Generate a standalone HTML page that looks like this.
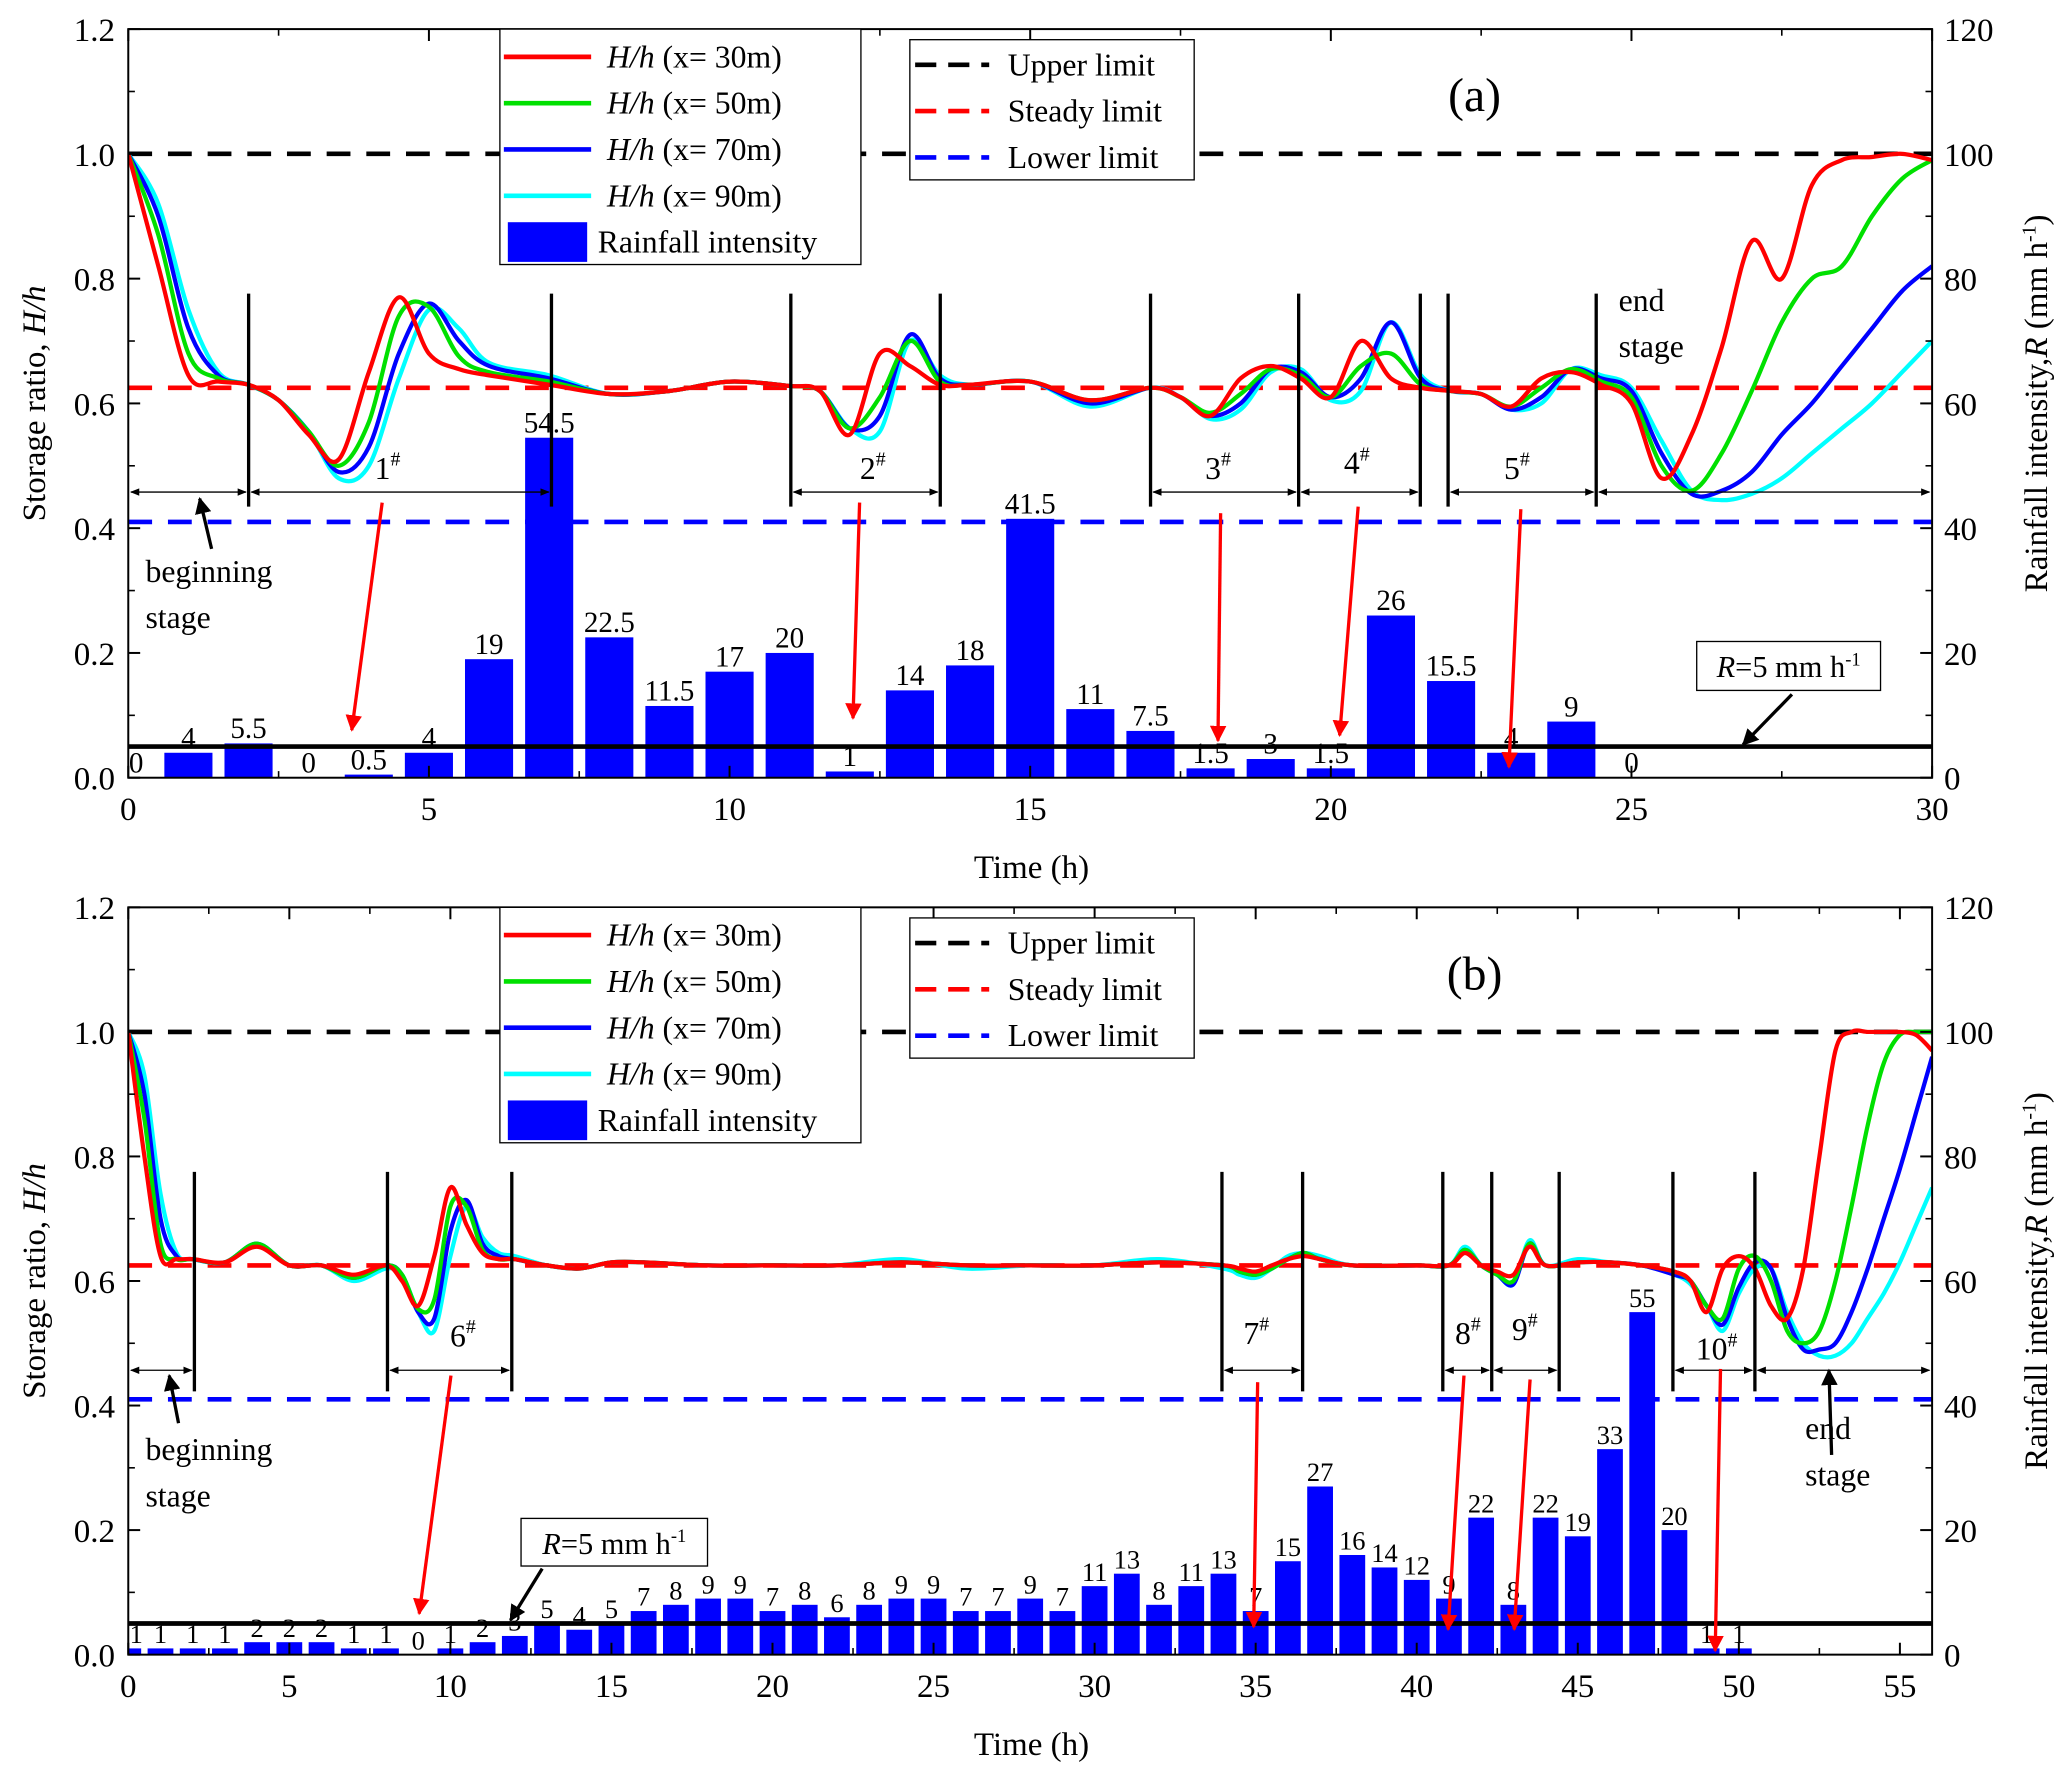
<!DOCTYPE html>
<html><head><meta charset="utf-8"><style>
html,body{margin:0;padding:0;background:#fff}
svg{display:block}
text{font-family:"Liberation Serif",serif;fill:#000}
</style></head><body>
<svg id="chart" width="2067" height="1775" viewBox="0 0 1563 1342" preserveAspectRatio="none" xmlns="http://www.w3.org/2000/svg">
<defs>
<marker id="ah" viewBox="0 0 10 10" refX="9" refY="5" markerWidth="7" markerHeight="7" orient="auto-start-reverse"><path d="M0,1 L10,5 L0,9 z" fill="#000"/></marker>
<marker id="rh" viewBox="0 0 10 10" refX="9" refY="5" markerWidth="5" markerHeight="5" orient="auto"><path d="M0,0 L10,5 L0,10 z" fill="#f00"/></marker>
<marker id="bh" viewBox="0 0 10 10" refX="9" refY="5" markerWidth="5" markerHeight="5" orient="auto"><path d="M0,0 L10,5 L0,10 z" fill="#000"/></marker>
<clipPath id="clipa"><rect x="97" y="22" width="1364" height="566"/></clipPath>
<clipPath id="clipb"><rect x="97" y="686" width="1364" height="565"/></clipPath>
</defs>
</svg>
<script>
// ---------- Panel (a) data ----------
const rainA = [0,4,5.5,0,0.5,4,19,54.5,22.5,11.5,17,20,1,14,18,41.5,11,7.5,1.5,3,1.5,26,15.5,4,9,0];
const tA = [0,0.5,1,1.5,2,2.5,3,3.5,4,4.5,5,5.5,6,7,8,9,10,11,11.5,12,12.5,13,13.5,14,15,16,17,17.5,18,18.5,19,19.5,20,20.5,21,21.5,22,22.5,23,23.5,24,24.5,25,25.5,26,26.5,27,27.5,28,28.5,29,29.5,30];
const redA = [1.0,0.82,0.645,0.635,0.63,0.605,0.55,0.51,0.65,0.77,0.68,0.655,0.645,0.63,0.615,0.62,0.635,0.628,0.62,0.55,0.68,0.66,0.63,0.63,0.635,0.605,0.625,0.61,0.58,0.64,0.66,0.64,0.61,0.70,0.64,0.625,0.62,0.615,0.595,0.64,0.65,0.63,0.60,0.48,0.55,0.69,0.86,0.80,0.95,0.99,0.995,1.0,0.99];
const greenA = [1.0,0.87,0.68,0.64,0.63,0.605,0.555,0.50,0.57,0.74,0.755,0.675,0.65,0.635,0.615,0.62,0.635,0.628,0.62,0.56,0.61,0.70,0.635,0.63,0.635,0.605,0.625,0.61,0.585,0.615,0.655,0.645,0.61,0.66,0.68,0.63,0.62,0.615,0.595,0.625,0.655,0.635,0.61,0.50,0.46,0.52,0.62,0.73,0.80,0.82,0.9,0.96,0.99];
const blueA = [1.0,0.9,0.72,0.645,0.63,0.605,0.555,0.49,0.53,0.68,0.76,0.70,0.66,0.64,0.615,0.62,0.635,0.628,0.62,0.56,0.58,0.71,0.64,0.63,0.635,0.60,0.625,0.61,0.58,0.60,0.655,0.65,0.61,0.64,0.73,0.64,0.62,0.615,0.59,0.61,0.655,0.64,0.62,0.52,0.455,0.46,0.49,0.55,0.60,0.66,0.72,0.78,0.82];
const cyanA = [1.0,0.92,0.75,0.65,0.63,0.605,0.555,0.48,0.50,0.64,0.75,0.72,0.665,0.645,0.615,0.62,0.635,0.628,0.62,0.56,0.555,0.70,0.645,0.63,0.635,0.595,0.625,0.61,0.575,0.59,0.65,0.655,0.605,0.62,0.73,0.645,0.62,0.615,0.59,0.60,0.655,0.645,0.625,0.54,0.46,0.445,0.455,0.48,0.52,0.56,0.60,0.65,0.70];
const xTicksA = [0,5,10,15,20,25,30];
// ---------- Panel (b) data ----------
const rainB = [1,1,1,1,2,2,2,1,1,0,1,2,3,5,4,5,7,8,9,9,7,8,6,8,9,9,7,7,9,7,11,13,8,11,13,7,15,27,16,14,12,9,22,8,22,19,33,55,20,1,1];
const tB = [0,0.5,1,1.5,2,3,4,5,6,7,8,8.5,9,9.5,10,10.5,11,11.5,12,13,14,15,16,18,20,22,24,26,28,30,32,34,34.5,35,35.5,36,36.5,37,38,40,41,41.5,42,42.5,43,43.5,44,45,46,47,48,48.5,49,49.5,50,50.5,51,51.5,52,52.5,53,53.5,54,54.5,55,55.5,56];
const redB = [1.0,0.8,0.64,0.635,0.635,0.63,0.655,0.625,0.625,0.61,0.625,0.60,0.56,0.64,0.75,0.69,0.645,0.635,0.635,0.625,0.62,0.63,0.63,0.625,0.625,0.625,0.63,0.625,0.625,0.625,0.63,0.625,0.62,0.615,0.625,0.635,0.64,0.635,0.625,0.625,0.625,0.645,0.625,0.615,0.61,0.655,0.625,0.63,0.63,0.625,0.615,0.60,0.55,0.62,0.64,0.62,0.56,0.54,0.62,0.80,0.97,1.0,1.0,1.0,1.0,0.995,0.97];
const greenB = [1.0,0.86,0.66,0.635,0.635,0.63,0.66,0.625,0.625,0.605,0.625,0.61,0.555,0.57,0.72,0.72,0.65,0.635,0.635,0.625,0.62,0.63,0.63,0.625,0.625,0.625,0.63,0.625,0.625,0.625,0.63,0.625,0.615,0.61,0.62,0.635,0.645,0.635,0.625,0.625,0.625,0.65,0.625,0.61,0.60,0.66,0.625,0.63,0.63,0.625,0.615,0.60,0.56,0.54,0.62,0.64,0.60,0.52,0.50,0.52,0.60,0.72,0.85,0.95,0.995,1.0,1.0];
const blueB = [1.0,0.9,0.7,0.64,0.635,0.63,0.66,0.625,0.625,0.605,0.625,0.61,0.55,0.54,0.68,0.73,0.66,0.64,0.635,0.625,0.62,0.63,0.63,0.625,0.625,0.625,0.63,0.625,0.625,0.625,0.63,0.625,0.615,0.61,0.62,0.635,0.645,0.635,0.625,0.625,0.625,0.65,0.625,0.61,0.595,0.66,0.625,0.63,0.63,0.625,0.61,0.60,0.56,0.53,0.59,0.63,0.62,0.54,0.49,0.49,0.50,0.55,0.62,0.70,0.78,0.87,0.96];
const cyanB = [1.0,0.93,0.74,0.645,0.635,0.63,0.66,0.625,0.625,0.60,0.62,0.61,0.55,0.52,0.64,0.72,0.67,0.645,0.64,0.625,0.62,0.63,0.63,0.625,0.625,0.625,0.635,0.62,0.625,0.625,0.635,0.62,0.61,0.605,0.62,0.64,0.645,0.64,0.625,0.625,0.625,0.655,0.625,0.61,0.595,0.665,0.625,0.635,0.63,0.625,0.61,0.595,0.56,0.52,0.58,0.62,0.62,0.55,0.50,0.48,0.48,0.50,0.54,0.58,0.63,0.69,0.75];
const xTicksB = [0,5,10,15,20,25,30,35,40,45,50,55];
const yTicks = [0,0.2,0.4,0.6,0.8,1.0,1.2];
const rTicks = [0,20,40,60,80,100,120];
const limits = [1.0,0.625,0.41];
const rThreshold = 5;

const NS="http://www.w3.org/2000/svg";
const svg=document.getElementById('chart');
function el(tag,attrs,parent){const e=document.createElementNS(NS,tag);for(const k in attrs)e.setAttribute(k,attrs[k]);(parent||svg).appendChild(e);return e;}
function txt(s,x,y,size,anchor,parent){const t=el('text',{x:x,y:y,'font-size':size,'text-anchor':anchor||'start'},parent);t.textContent=s;return t;}
function smooth(pts){
  let d='M'+pts[0][0].toFixed(1)+','+pts[0][1].toFixed(1);
  for(let i=0;i<pts.length-1;i++){
    const p0=pts[Math.max(0,i-1)],p1=pts[i],p2=pts[i+1],p3=pts[Math.min(pts.length-1,i+2)];
    const c1=[p1[0]+(p2[0]-p0[0])/6,p1[1]+(p2[1]-p0[1])/6],c2=[p2[0]-(p3[0]-p1[0])/6,p2[1]-(p3[1]-p1[1])/6];
    d+=' C'+c1[0].toFixed(1)+','+c1[1].toFixed(1)+' '+c2[0].toFixed(1)+','+c2[1].toFixed(1)+' '+p2[0].toFixed(1)+','+p2[1].toFixed(1);
  }
  return d;
}

function panel(cfg){
  const g=el('g',{});
  
  
  const L=97,R=1461,T=cfg.top,B=cfg.bottom;
  const xs=t=>L+t*(R-L)/cfg.xmax;
  const ys=v=>B-v*(B-T)/1.2;
  const yr=r=>B-r*(B-T)/120;
  const bg=el('g',{'clip-path':'url(#'+cfg.clip+')'},g);
  const bw=0.8*(R-L)/cfg.xmax;
  cfg.rain.forEach((r,i)=>{
    if(r>0){const b=el('rect',{x:xs(i)-bw/2,y:yr(r),width:bw,height:B-yr(r),fill:'#0000ff'},bg);
    
    }
    const lb=txt(String(r),Math.max(xs(i),L+6),yr(r)-4,cfg.barFont,'middle',g);
    
    
  });
  const th=el('line',{x1:L,x2:R,y1:yr(rThreshold),y2:yr(rThreshold),stroke:'#000','stroke-width':3.5},g);
  
  
  const lc=['#000','#f00','#0000ff'];
  limits.forEach((v,i)=>{const l=el('line',{x1:L,x2:R,y1:ys(v),y2:ys(v),stroke:lc[i],'stroke-width':3.5,'stroke-dasharray':'18 12'},g);
    
    });
  const cols=['#ff0000','#00e000','#0000ff','#00ffff'];
  const sg=el('g',{'clip-path':'url(#'+cfg.clip+')'},g);
  [cfg.cyan,cfg.blue,cfg.green,cfg.red].forEach((s,k)=>{
    const c=cols[3-k];
    const pts=s.map((v,i)=>[xs(cfg.t[i]),ys(v)]);
    const p=el('path',{d:smooth(pts),fill:'none',stroke:c,'stroke-width':3.2,'stroke-linejoin':'round'},sg);
    
    
  });
  cfg.vlines.forEach(x=>el('line',{x1:x,x2:x,y1:cfg.vy[0],y2:cfg.vy[1],stroke:'#000','stroke-width':2.5},g));
  cfg.spans.forEach(s=>el('line',{x1:s[0]+2,x2:s[1]-2,y1:cfg.ay,y2:cfg.ay,stroke:'#000','stroke-width':1,'marker-start':'url(#ah)','marker-end':'url(#ah)'},g));
  cfg.events.forEach(e=>{const t=txt(e[0],e[1],e[2],24,'middle',g);const s=el('tspan',{dy:-10,'font-size':15},t);s.textContent='#';});
  cfg.red_arrows.forEach(a=>el('line',{x1:a[0],y1:a[1],x2:a[2],y2:a[3],stroke:'#f00','stroke-width':2.5,'marker-end':'url(#rh)'},g));
  cfg.blk_arrows.forEach(a=>el('line',{x1:a[0],y1:a[1],x2:a[2],y2:a[3],stroke:'#000','stroke-width':2.5,'marker-end':'url(#bh)'},g));
  cfg.notes.forEach(n=>txt(n[0],n[1],n[2],24,'start',g));
  const rb=cfg.rbox;
  el('rect',{x:rb[0],y:rb[1],width:rb[2],height:rb[3],fill:'#fff',stroke:'#000','stroke-width':1},g);
  const rt=txt('',rb[0]+rb[2]/2,rb[1]+27,23,'middle',g);
  let s1=el('tspan',{'font-style':'italic'},rt);s1.textContent='R';
  let s2=el('tspan',{},rt);s2.textContent='=5 mm h';
  let s3=el('tspan',{dy:-9,'font-size':14},rt);s3.textContent='-1';
  txt(cfg.label,1115,cfg.top+62,36,'middle',g);
  el('rect',{x:L,y:T,width:R-L,height:B-T,fill:'none',stroke:'#000','stroke-width':1.5},g);
  yTicks.forEach(v=>{el('line',{x1:L,x2:L+9,y1:ys(v),y2:ys(v),stroke:'#000','stroke-width':1.5},g);txt(v.toFixed(1),L-10,ys(v)+9,25,'end',g);});
  yTicks.slice(0,-1).forEach(v=>el('line',{x1:L,x2:L+5,y1:ys(v+0.1),y2:ys(v+0.1),stroke:'#000','stroke-width':1.2},g));
  rTicks.forEach(r=>{el('line',{x1:R-9,x2:R,y1:yr(r),y2:yr(r),stroke:'#000','stroke-width':1.5},g);txt(String(r),R+9,yr(r)+9,25,'start',g);});
  rTicks.slice(0,-1).forEach(r=>el('line',{x1:R-5,x2:R,y1:yr(r+10),y2:yr(r+10),stroke:'#000','stroke-width':1.2},g));
  cfg.xticks.forEach(t=>{[B,T].forEach((yy,k)=>el('line',{x1:xs(t),x2:xs(t),y1:yy,y2:k?yy+9:yy-9,stroke:'#000','stroke-width':1.5},g));txt(String(t),xs(t),B+32,25,'middle',g);
    if(t+2.5<=cfg.xmax)[B,T].forEach((yy,k)=>el('line',{x1:xs(t+2.5),x2:xs(t+2.5),y1:yy,y2:k?yy+5:yy-5,stroke:'#000','stroke-width':1.2},g));});
  const xt=txt('Time (h)',780,B+76,25,'middle',g);
  
  const cy=(T+B)/2;
  const lt=txt('',0,0,25,'middle',g);lt.setAttribute('transform','translate(34,'+cy+') rotate(-90)');
  let a1=el('tspan',{},lt);a1.textContent='Storage ratio, ';let a2=el('tspan',{'font-style':'italic'},lt);a2.textContent='H/h';
  
  const rt2=txt('',0,0,25,'middle',g);rt2.setAttribute('transform','translate(1548,'+cy+') rotate(-90)');
  let b1=el('tspan',{},rt2);b1.textContent='Rainfall intensity,';let b2=el('tspan',{'font-style':'italic'},rt2);b2.textContent='R';
  let b3=el('tspan',{},rt2);b3.textContent=' (mm h';let b4=el('tspan',{dy:-9,'font-size':15},rt2);b4.textContent='-1';let b5=el('tspan',{dy:9},rt2);b5.textContent=')';
  
  const lg=el('g',{},g);
  
  
  el('rect',{x:378,y:T,width:273,height:178,fill:'#fff',stroke:'#000','stroke-width':1},lg);
  ['30','50','70','90'].forEach((x,i)=>{const yy=T+21+i*35;el('line',{x1:381,x2:447,y1:yy,y2:yy,stroke:cols[i],'stroke-width':3.5},lg);
    const t=txt('',459,yy+8,24,'start',lg);const q=el('tspan',{'font-style':'italic'},t);q.textContent='H/h';const q2=el('tspan',{},t);q2.textContent=' (x= '+x+'m)';});
  el('rect',{x:384,y:T+146,width:60,height:30,fill:'#0000ff'},lg);
  txt('Rainfall intensity',452,T+169,24,'start',lg);
  const lg2=el('g',{},g);
  
  
  el('rect',{x:688,y:T+8,width:215,height:106,fill:'#fff',stroke:'#000','stroke-width':1},lg2);
  ['Upper limit','Steady limit','Lower limit'].forEach((s,i)=>{const yy=T+27+i*35;el('line',{x1:692,x2:748,y1:yy,y2:yy,stroke:lc[i],'stroke-width':3.5,'stroke-dasharray':'16 9'},lg2);txt(s,762,yy+8,24,'start',lg2);});
}

panel({name:'panel-a',clip:'clipa',label:'(a)',top:22,bottom:588,xmax:30,rain:rainA,t:tA,red:redA,green:greenA,blue:blueA,cyan:cyanA,xticks:xTicksA,barFont:22,
  vlines:[188,417,598,711,870,982,1074,1095,1207],vy:[222,383],ay:372,
  spans:[[97,188],[188,417],[598,711],[870,982],[982,1074],[1095,1207],[1207,1461]],
  events:[['1',293,362],['2',660,362],['3',921,362],['4',1026,358],['5',1147,362]],
  red_arrows:[[289,380,266,552],[650,380,645,543],[923,388,921,560],[1027,383,1013,556],[1150,385,1141,580]],
  blk_arrows:[[160,415,151,377],[1355,525,1318,563]],
  notes:[['beginning',110,440],['stage',110,475],['end',1224,235],['stage',1224,270]],
  rbox:[1283,485,139,37]});
panel({name:'panel-b',clip:'clipb',label:'(b)',top:686,bottom:1251,xmax:56,rain:rainB,t:tB,red:redB,green:greenB,blue:blueB,cyan:cyanB,xticks:xTicksB,barFont:20,
  vlines:[147,293,387,924,985,1091,1128,1179,1265,1327],vy:[886,1052],ay:1036,
  spans:[[97,147],[293,387],[924,985],[1091,1128],[1128,1179],[1265,1327],[1327,1461]],
  events:[['6',350,1018],['7',950,1016],['8',1110,1016],['9',1153,1013],['10',1298,1028]],
  red_arrows:[[341,1040,317,1220],[951,1045,948,1230],[1107,1040,1095,1232],[1157,1043,1145,1232],[1301,1035,1297,1248]],
  blk_arrows:[[135,1076,128,1040],[1385,1100,1383,1036],[410,1186,386,1225]],
  notes:[['beginning',110,1104],['stage',110,1139],['end',1365,1088],['stage',1365,1123]],
  rbox:[394,1148,141,36]});
</script>
</body></html>
